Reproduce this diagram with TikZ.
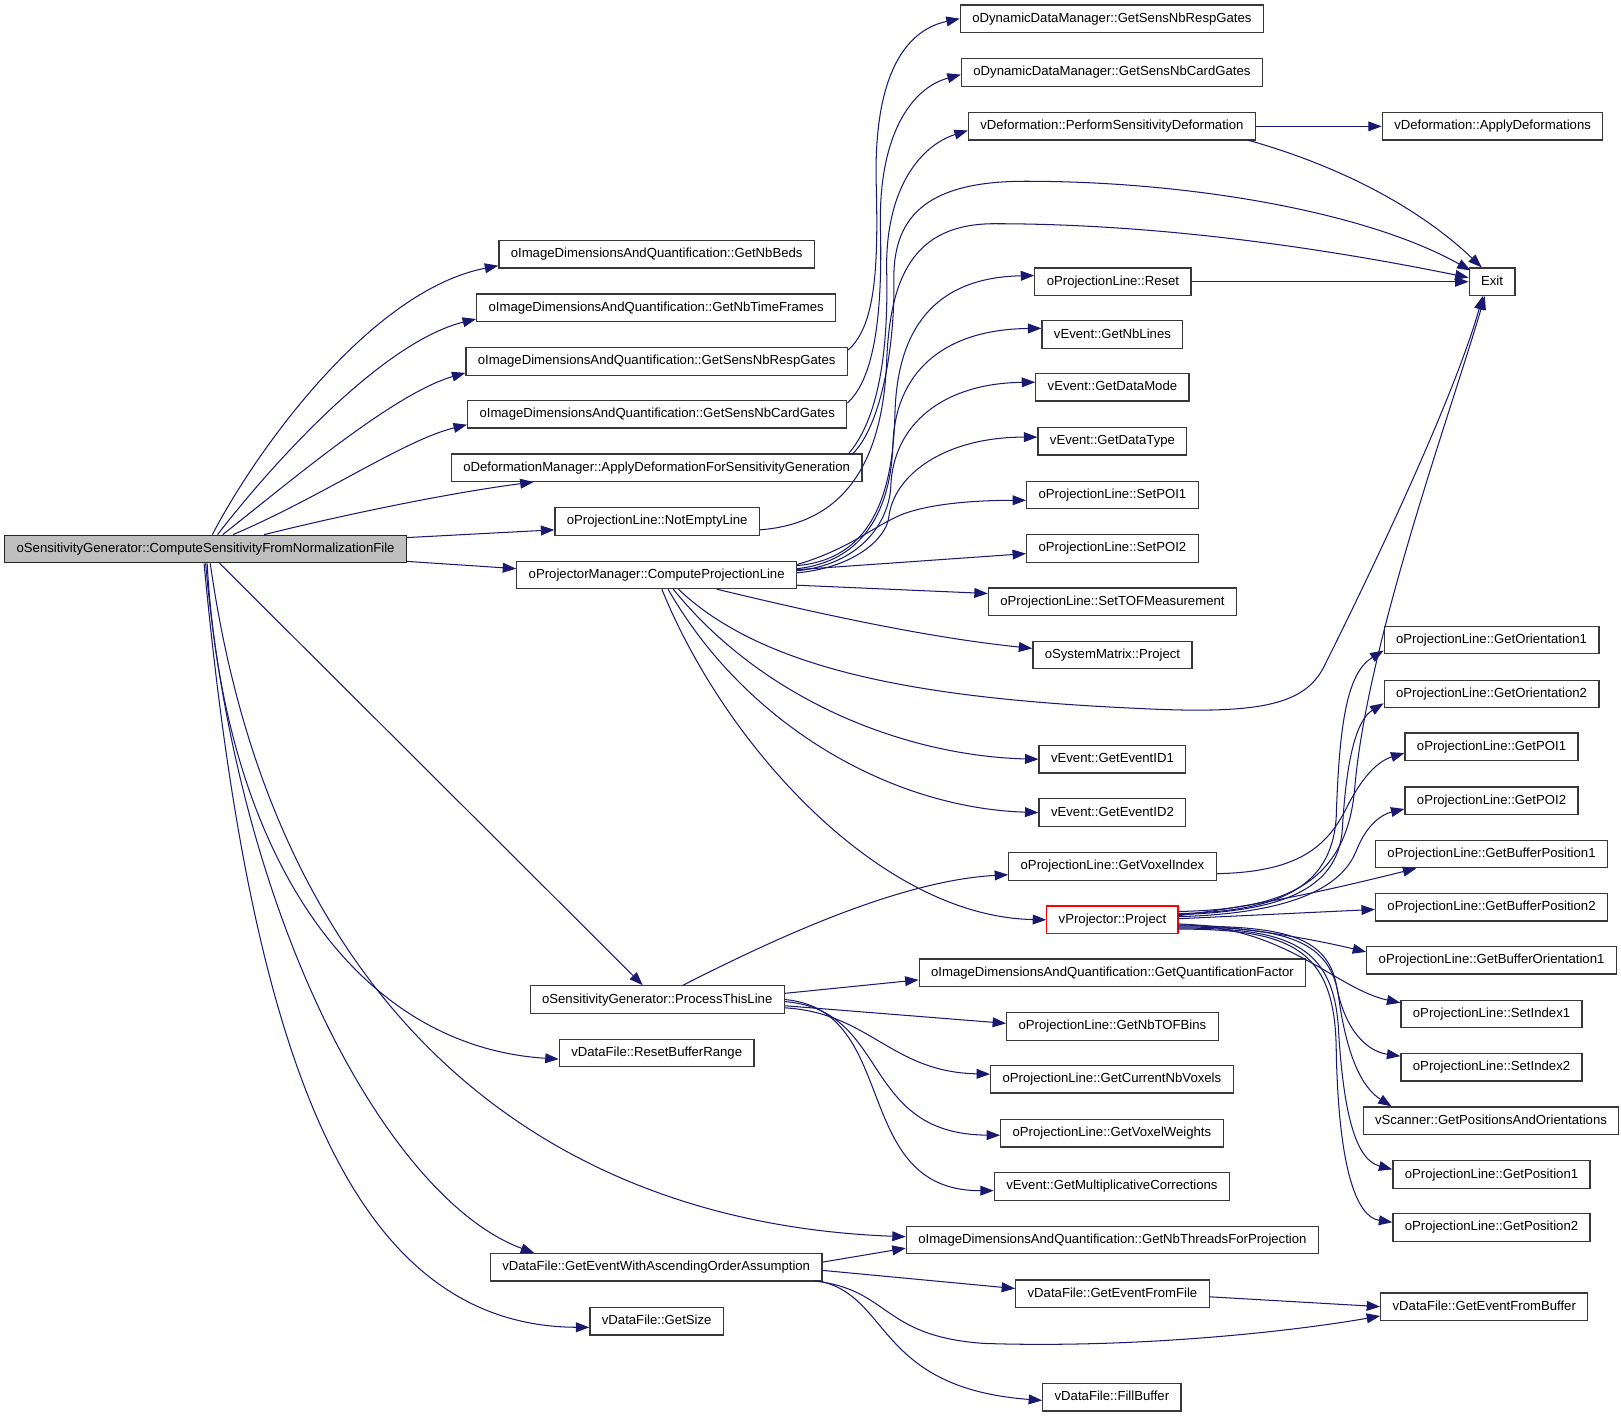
\documentclass[tikz,border=0pt]{standalone}
\usepackage{fontspec}
\setmainfont{Liberation Sans}
\usetikzlibrary{calc,arrows.meta}
\definecolor{edgeblue}{HTML}{191970}
\definecolor{maingray}{HTML}{BFBFBF}
\tikzset{
  fn/.style={draw=black!78, fill=white, line width=1.2pt, inner xsep=11.5pt, inner ysep=0pt,
    minimum height=26.5pt, text height=9.3pt, text depth=2.6pt,
    font=\fontsize{12.7}{14}\selectfont},
  rootfn/.style={fn, fill=maingray, draw=black!85},
  redfn/.style={fn, draw=red},
  call/.style={draw=edgeblue, line width=1pt, -{Triangle[length=13pt,width=9.5pt]}}
}
\begin{document}
\begin{tikzpicture}[x=1pt,y=-1pt]
\fill[white] (0,0) rectangle (1565,1367);
\useasboundingbox (0,0) rectangle (1565,1367);

% ---- nodes: column 1 and 2
\node[rootfn] (m) at (198.5,530) {oSensitivityGenerator::ComputeSensitivityFromNormalizationFile};
\node[fn] (nbbeds) at (634,245.5) {oImageDimensionsAndQuantification::GetNbBeds};
\node[fn] (ntf) at (633.5,297) {oImageDimensionsAndQuantification::GetNbTimeFrames};
\node[fn] (rg2) at (634,349) {oImageDimensionsAndQuantification::GetSensNbRespGates};
\node[fn] (cg2) at (634.5,400) {oImageDimensionsAndQuantification::GetSensNbCardGates};
\node[fn] (adg) at (634,451.5) {oDeformationManager::ApplyDeformationForSensitivityGeneration};
\node[fn] (nel) at (634.5,503.5) {oProjectionLine::NotEmptyLine};
\node[fn] (cpl) at (634,555) {oProjectorManager::ComputeProjectionLine};
\node[fn] (ptl) at (634.5,965) {oSensitivityGenerator::ProcessThisLine};
\node[fn] (rbr) at (634,1016.5) {vDataFile::ResetBufferRange};
\node[fn] (gea) at (633.5,1223.5) {vDataFile::GetEventWithAscendingOrderAssumption};
\node[fn] (gs) at (634,1275.5) {vDataFile::GetSize};

% ---- column 3
\node[fn] (dresp) at (1073.5,18) {oDynamicDataManager::GetSensNbRespGates};
\node[fn] (dcard) at (1073.5,70) {oDynamicDataManager::GetSensNbCardGates};
\node[fn] (psd) at (1073.5,122) {vDeformation::PerformSensitivityDeformation};
\node[fn] (reset) at (1074.5,272) {oProjectionLine::Reset};
\node[fn] (nbl) at (1074,323) {vEvent::GetNbLines};
\node[fn] (dm) at (1074,374) {vEvent::GetDataMode};
\node[fn] (dt) at (1074,426) {vEvent::GetDataType};
\node[fn] (spoi1) at (1074,478) {oProjectionLine::SetPOI1};
\node[fn] (spoi2) at (1074,529.5) {oProjectionLine::SetPOI2};
\node[fn] (tof) at (1074,581) {oProjectionLine::SetTOFMeasurement};
\node[fn] (smp) at (1074,632.5) {oSystemMatrix::Project};
\node[fn] (id1) at (1074,733) {vEvent::GetEventID1};
\node[fn] (id2) at (1074,784.5) {vEvent::GetEventID2};
\node[fn] (gvi) at (1074,836.5) {oProjectionLine::GetVoxelIndex};
\node[redfn] (vproj) at (1074,888) {vProjector::Project};
\node[fn] (gqf) at (1074,939) {oImageDimensionsAndQuantification::GetQuantificationFactor};
\node[fn] (tofb) at (1074,991) {oProjectionLine::GetNbTOFBins};
\node[fn] (cnv) at (1073.5,1042) {oProjectionLine::GetCurrentNbVoxels};
\node[fn] (vw) at (1073.5,1094) {oProjectionLine::GetVoxelWeights};
\node[fn] (mc) at (1073.5,1145.5) {vEvent::GetMultiplicativeCorrections};
\node[fn] (gnt) at (1074,1197) {oImageDimensionsAndQuantification::GetNbThreadsForProjection};
\node[fn] (gef) at (1074,1249) {vDataFile::GetEventFromFile};
\node[fn] (fb) at (1073.5,1349) {vDataFile::FillBuffer};

% ---- column 4
\node[fn] (adef) at (1441,122) {vDeformation::ApplyDeformations};
\node[fn] (exit) at (1440.5,272) {Exit};
\node[fn] (o1) at (1440,618) {oProjectionLine::GetOrientation1};
\node[fn] (o2) at (1440,670) {oProjectionLine::GetOrientation2};
\node[fn] (gpoi1) at (1440,721) {oProjectionLine::GetPOI1};
\node[fn] (gpoi2) at (1440,773) {oProjectionLine::GetPOI2};
\node[fn] (bp1) at (1440,824.5) {oProjectionLine::GetBufferPosition1};
\node[fn] (bp2) at (1440,876) {oProjectionLine::GetBufferPosition2};
\node[fn] (bo1) at (1440,927) {oProjectionLine::GetBufferOrientation1};
\node[fn] (si1) at (1440,979) {oProjectionLine::SetIndex1};
\node[fn] (si2) at (1440,1030.5) {oProjectionLine::SetIndex2};
\node[fn] (vsc) at (1439.5,1082) {vScanner::GetPositionsAndOrientations};
\node[fn] (p1) at (1440,1134) {oProjectionLine::GetPosition1};
\node[fn] (p2) at (1440,1185) {oProjectionLine::GetPosition2};
\node[fn] (gefb) at (1433,1261.5) {vDataFile::GetEventFromBuffer};

% ---- edges from root
\draw[call] ($(m.north)+(6.5,0)$) .. controls (250,430) and (360,280) .. ($(nbbeds.west)+(0,11)$);
\draw[call] ($(m.north)+(11.5,0)$) .. controls (265,445) and (370,330) .. ($(ntf.west)+(0,11)$);
\draw[call] ($(m.north)+(16.5,0)$) .. controls (280,465) and (380,380) .. ($(rg2.west)+(0,11)$);
\draw[call] ($(m.north)+(26.5,0)$) .. controls (310,480) and (390,425) .. ($(cg2.west)+(0,10)$);
\draw[call] ($(m.north)+(56.5,0)$) .. controls (340,495) and (440,475) .. ($(adg.south west)+(80,0)$);
\draw[call] ($(m.east)+(0,-11)$) -- ($(nel.west)+(0,8)$);
\draw[call] ($(m.east)+(0,12)$) -- ($(cpl.west)+(0,-6)$);
\draw[call] ($(m.south)+(13.5,0)$) -- ($(ptl.north)+(-14,0)$);
\draw[call] ($(m.south)+(1.5,0)$) .. controls (215,820) and (340,1010) .. ($(rbr.west)+(0,6)$);
\draw[call] ($(m.south)+(4.5,0)$) .. controls (260,950) and (500,1180) .. ($(gnt.west)+(0,-3)$);
\draw[call] ($(m.south)+(0,0)$) .. controls (230,900) and (380,1160) .. ($(gea.north west)+(43,0)$);
\draw[call] ($(m.south)+(-1.5,0)$) .. controls (240,1000) and (330,1280) .. ($(gs.west)+(0,6)$);

% ---- column 2 to column 3 (upper bundle)
\draw[call] ($(rg2.east)+(0,-11)$) .. controls (845,315) and (848,260) .. (846,180) .. controls (843,80) and (870,30) .. (dresp.west);
\draw[call] ($(cg2.east)+(0,-11)$) .. controls (845,365) and (852,300) .. (850,220) .. controls (848,130) and (880,85) .. ($(dcard.west)+(0,2)$);
\draw[call] ($(adg.east)+(-14,-13)$) .. controls (848,405) and (858,340) .. (856,260) .. controls (855,180) and (890,140) .. ($(psd.west)+(0,4)$);
\draw[call] ($(adg.east)+(-10,-13)$) .. controls (852,410) and (864,330) .. (863,270) .. controls (862,205) and (900,175) .. (990,175) .. controls (1150,175) and (1320,205) .. ($(exit.north west)+(2,3)$);
\draw[call] ($(nel.east)+(0,8)$) .. controls (820,505) and (852,440) .. (856,350) .. controls (859,270) and (880,216) .. (960,216) .. controls (1120,216) and (1280,240) .. ($(exit.west)+(0,-4)$);

% ---- ComputeProjectionLine
\draw[call] ($(cpl.east)+(0,-9)$) .. controls (840,540) and (862,480) .. (864,400) .. controls (866,320) and (900,268) .. ($(reset.west)+(0,-6)$);
\draw[call] ($(cpl.east)+(0,-6)$) .. controls (835,542) and (860,490) .. (862,430) .. controls (864,360) and (910,318) .. ($(nbl.west)+(0,-6)$);
\draw[call] ($(cpl.east)+(0,-4)$) .. controls (830,545) and (858,505) .. (860,470) .. controls (862,410) and (910,370) .. ($(dm.west)+(0,-5)$);
\draw[call] ($(cpl.east)+(0,-2)$) .. controls (825,548) and (855,520) .. (858,500) .. controls (862,460) and (910,422) .. ($(dt.west)+(0,-4)$);
\draw[call] ($(cpl.east)+(0,-10)$) .. controls (820,530) and (840,510) .. (870,497) .. controls (900,485) and (950,483) .. ($(spoi1.west)+(0,5)$);
\draw[call] ($(cpl.east)+(0,-5)$) -- ($(spoi2.west)+(0,5)$);
\draw[call] ($(cpl.east)+(0,10)$) -- ($(tof.west)+(0,-8)$);
\draw[call] ($(cpl.south)+(58,0)$) .. controls (780,590) and (890,615) .. ($(smp.west)+(0,-6.5)$);
\draw[call] ($(cpl.south)+(21,0)$) .. controls (740,650) and (900,675) .. (1100,684) .. controls (1220,690) and (1262,680) .. (1280,640) .. controls (1330,540) and (1405,380) .. ($(exit.south)+(-9,0)$);
\draw[call] ($(cpl.south)+(16,0)$) .. controls (740,680) and (880,730) .. (id1.west);
\draw[call] ($(cpl.south)+(11,0)$) .. controls (720,700) and (860,780) .. (id2.west);
\draw[call] ($(cpl.south)+(5,0)$) .. controls (700,720) and (850,885) .. (vproj.west);

% ---- ProcessThisLine
\draw[call] ($(ptl.north)+(25,0)$) .. controls (750,905) and (870,850) .. ($(gvi.west)+(0,8)$);
\draw[call] ($(ptl.east)+(0,-6)$) -- ($(gqf.west)+(0,7)$);
\draw[call] ($(ptl.east)+(0,6)$) -- ($(tofb.west)+(0,-3)$);
\draw[call] ($(ptl.east)+(0,8)$) .. controls (840,978) and (860,1035) .. ($(cnv.west)+(0,-5)$);
\draw[call] ($(ptl.east)+(0,2)$) .. controls (860,975) and (830,1095) .. ($(vw.west)+(0,2)$);
\draw[call] ($(ptl.east)+(0,0)$) .. controls (870,975) and (820,1150) .. ($(mc.west)+(0,4)$);

% ---- GetEventWithAscendingOrderAssumption
\draw[call] ($(gea.east)+(0,-5)$) -- ($(gnt.west)+(0,8)$);
\draw[call] ($(gea.east)+(0,3)$) -- ($(gef.west)+(0,-5)$);
\draw[call] ($(gea.east)+(-8,13.25)$) .. controls (860,1245) and (850,1290) .. (950,1297) .. controls (1100,1302) and (1250,1285) .. ($(gefb.west)+(0,9)$);
\draw[call] ($(gea.east)+(-4,13.25)$) .. controls (860,1250) and (845,1340) .. ($(fb.west)+(0,3)$);
\draw[call] ($(gef.east)+(0,3)$) -- (gefb.west);

% ---- deformation, reset
\draw[call] (psd.east) -- (adef.west);
\draw[call] ($(psd.east)+(-8,13.25)$) .. controls (1310,165) and (1380,210) .. ($(exit.north)+(-10,0)$);
\draw[call] (reset.east) -- (exit.west);

% ---- vProjector::Project
\draw[call] ($(vproj.east)+(0,-8)$) .. controls (1230,878) and (1300,860) .. (1308,760) .. controls (1320,620) and (1400,400) .. ($(exit.south)+(-7,0)$);
\draw[call] ($(vproj.east)+(0,-6)$) .. controls (1230,880) and (1285,860) .. (1290,790) .. controls (1293,700) and (1300,650) .. ($(o1.west)+(0,10)$);
\draw[call] ($(vproj.east)+(0,-5)$) .. controls (1235,880) and (1292,860) .. (1296,800) .. controls (1300,730) and (1310,695) .. ($(o2.west)+(0,9)$);
\draw[call] ($(gvi.east)+(0,7)$) .. controls (1250,842) and (1280,820) .. (1300,780) .. controls (1315,750) and (1330,735) .. ($(gpoi1.west)+(0,6)$);
\draw[call] ($(vproj.east)+(0,-3)$) .. controls (1240,882) and (1295,860) .. (1310,820) .. controls (1320,795) and (1335,786) .. ($(gpoi2.west)+(0,8)$);
\draw[call] ($(vproj.east)+(0,-4)$) .. controls (1230,872) and (1300,855) .. ($(bp1.south west)+(40,0)$);
\draw[call] ($(vproj.east)+(0,-1)$) -- ($(bp2.west)+(0,2)$);
\draw[call] ($(vproj.east)+(0,4)$) .. controls (1200,895) and (1260,905) .. ($(bo1.west)+(0,-8)$);
\draw[call] ($(vproj.east)+(0,5)$) .. controls (1240,893) and (1290,955) .. ($(si1.north west)+(0,3)$);
\draw[call] ($(vproj.east)+(0,6)$) .. controls (1230,894) and (1280,900) .. (1290,950) .. controls (1298,995) and (1320,1015) .. ($(si2.north west)+(0,3)$);
\draw[call] ($(vproj.east)+(0,7)$) .. controls (1235,895) and (1283,905) .. (1292,960) .. controls (1300,1020) and (1315,1050) .. ($(vsc.north west)+(28,0)$);
\draw[call] ($(vproj.east)+(0,8)$) .. controls (1240,896) and (1286,910) .. (1292,990) .. controls (1297,1080) and (1310,1120) .. ($(p1.west)+(0,-5)$);
\draw[call] ($(vproj.east)+(0,9)$) .. controls (1245,897) and (1288,915) .. (1290,1010) .. controls (1292,1130) and (1310,1175) .. ($(p2.west)+(0,-5)$);
\end{tikzpicture}
\end{document}
